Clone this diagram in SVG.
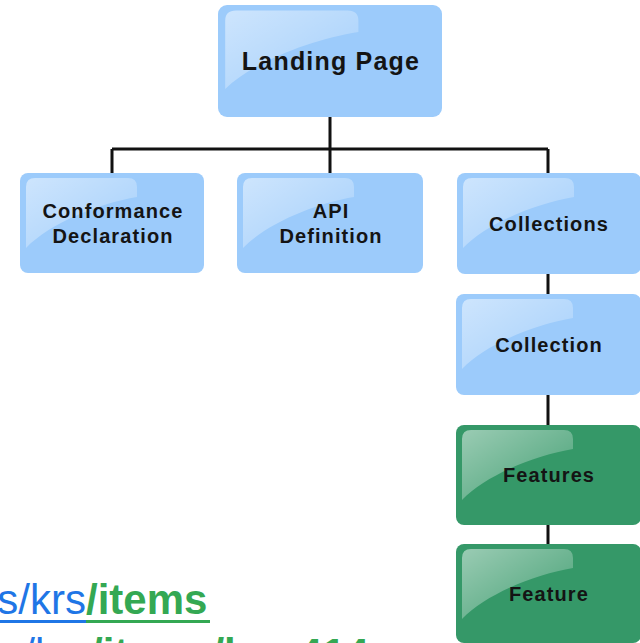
<svg xmlns="http://www.w3.org/2000/svg" xmlns:xlink="http://www.w3.org/1999/xlink" width="640" height="643" viewBox="0 0 640 643">
<defs>
<linearGradient id="gl" x1="0" y1="0" x2="1" y2="1">
<stop offset="0" stop-color="#fff" stop-opacity="0.5"/>
<stop offset="1" stop-color="#fff" stop-opacity="0.08"/>
</linearGradient>
<path id="gloss" d="M6 75 L6 14 Q6 5 15 5 L108 5 Q117 5 117 14 L117 24 C80 30 30 50 6 75 Z" fill="url(#gl)"/>
</defs>
<style>
.blue{fill:#9ccbfb}
.green{fill:#359868}
.lbl{font-family:"Liberation Sans",Arial,sans-serif;font-weight:bold;font-size:20px;letter-spacing:1.1px;fill:#141414;text-anchor:middle}
.big{font-size:25px;letter-spacing:1.2px}
.conn{stroke:#111;stroke-width:3;fill:none}
.url{font-family:"Liberation Sans",Arial,sans-serif;font-size:42px}
</style>
<rect width="640" height="643" fill="#fff"/>
<g id="connectors">
<path class="conn" d="M330 117 V149 M112 149 H548 M112 149 V173 M330 149 V173 M548 149 V173"/>
<path class="conn" d="M548 274 V294 M548 395 V425 M548 525 V544"/>
</g>
<g id="landing" transform="translate(218,5)">
<rect class="blue" width="224" height="112" rx="9"/>
<use xlink:href="#gloss" transform="scale(1.2,1.12)"/>
<text class="lbl big" x="113" y="65">Landing Page</text>
</g>
<g id="conformance" transform="translate(20,173)">
<rect class="blue" width="184" height="100" rx="8"/>
<use xlink:href="#gloss"/>
<text class="lbl" x="93" y="45">Conformance</text>
<text class="lbl" x="93" y="70">Declaration</text>
</g>
<g id="api" transform="translate(237,173)">
<rect class="blue" width="186" height="100" rx="8"/>
<use xlink:href="#gloss"/>
<text class="lbl" x="94" y="45">API</text>
<text class="lbl" x="94" y="70">Definition</text>
</g>
<g id="collections" transform="translate(457,173)">
<rect class="blue" width="184" height="101" rx="8"/>
<use xlink:href="#gloss"/>
<text class="lbl" x="92" y="58">Collections</text>
</g>
<g id="collection" transform="translate(456,294)">
<rect class="blue" width="185" height="101" rx="8"/>
<use xlink:href="#gloss"/>
<text class="lbl" x="93" y="58">Collection</text>
</g>
<g id="features" transform="translate(456,425)">
<rect class="green" width="185" height="100" rx="8"/>
<use xlink:href="#gloss"/>
<text class="lbl" x="93" y="57">Features</text>
</g>
<g id="feature" transform="translate(456,544)">
<rect class="green" width="185" height="99" rx="8"/>
<use xlink:href="#gloss"/>
<text class="lbl" x="93" y="57">Feature</text>
</g>
<g id="urls">
<text class="url" x="86" y="614" text-anchor="end" fill="#1f76e6">s/krs</text>
<text class="url" x="86" y="614" fill="#34a853" font-weight="bold">/items</text>
<rect x="0" y="620" width="86" height="3" fill="#1f76e6"/>
<rect x="86" y="620" width="124" height="3" fill="#34a853"/>
<text class="url" x="91" y="668" text-anchor="end" fill="#1f76e6">s/krs</text>
<text class="url" x="91" y="668" fill="#34a853" font-weight="bold">/items/krs.414</text>
</g>
</svg>
